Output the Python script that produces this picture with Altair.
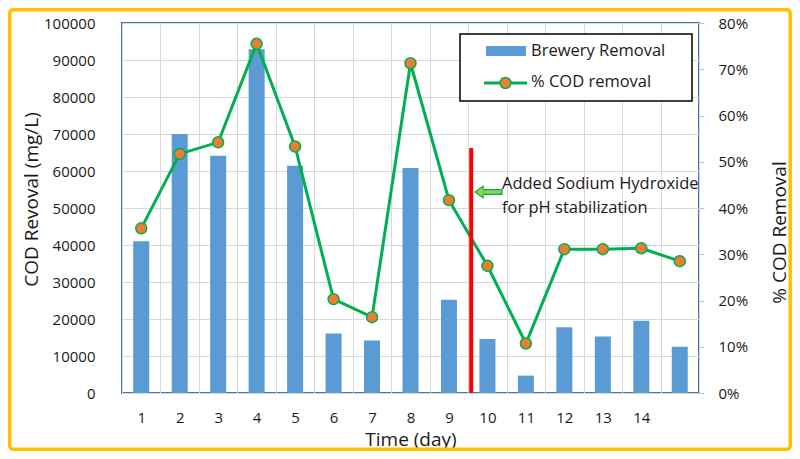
import altair as alt
import pandas as pd

days = list(range(1, 16))
cod_removal = [41000, 70000, 64100, 92900, 61400, 16100, 14200, 60800,
               25200, 14600, 4700, 17800, 15300, 19500, 12500]
pct_removal = [0.356, 0.517, 0.542, 0.755, 0.533, 0.203, 0.164, 0.713,
               0.417, 0.275, 0.107, 0.311, 0.311, 0.313, 0.285]
event_day = [10]
note_lines = ["Added Sodium Hydroxide", "for pH stabilization"]
legend_labels = ["Brewery Removal", "% COD removal"]

FONT = "Open Sans"
BLUE = "#5B9BD5"
GREEN = "#00B050"
ORANGE = "#ED7D31"
TXT = "#1a1a1a"

df = pd.DataFrame({"day": days, "cod": cod_removal, "pct": pct_removal})
one = pd.DataFrame({"k": [0]})

x_enc = alt.X(
    "day:O",
    title="Time (day)",
    scale=alt.Scale(paddingInner=0, paddingOuter=0),
    axis=alt.Axis(
        orient="bottom", tickBand="extent", grid=True, gridColor="#D9D9D9",
        ticks=False, tickSize=0, domain=False, labelAngle=0,
        labelExpr="datum.value == 15 ? '' : datum.label",
        labelFontSize=15, labelPadding=17, labelColor=TXT,
        titleFontSize=19, titleFontWeight="normal", titleColor=TXT,
        titleY=46, titleBaseline="middle",
    ),
)

bars = alt.Chart(df).mark_bar(color=BLUE, size=16).encode(
    x=x_enc,
    y=alt.Y(
        "cod:Q",
        title="COD Revoval (mg/L)",
        scale=alt.Scale(domain=[0, 100000], nice=False),
        axis=alt.Axis(
            orient="left", values=list(range(0, 100001, 10000)), format="d",
            grid=True, gridColor="#D9D9D9", ticks=False, tickSize=0, domain=False,
            labelFontSize=15, labelPadding=27, labelColor=TXT,
            titleFontSize=19, titleFontWeight="normal", titleColor=TXT,
            titleX=-91, titleY=176, titleBaseline="middle", titleAngle=270,
        ),
    ),
)

line = alt.Chart(df).mark_line(
    color=GREEN, strokeWidth=3,
    point=alt.OverlayMarkDef(filled=True, fill=ORANGE, stroke=GREEN,
                             strokeWidth=1.5, size=120, opacity=1),
).encode(
    x=alt.X("day:O"),
    y=alt.Y(
        "pct:Q",
        title="% COD Removal",
        scale=alt.Scale(domain=[0, 0.8], nice=False),
        axis=alt.Axis(
            orient="right", values=[i / 10 for i in range(0, 9)], format=".0%",
            grid=False, ticks=True, tickSize=5, tickColor="#BFBFBF", domain=False,
            labelFontSize=15, labelPadding=14, labelColor=TXT,
            titleFontSize=19, titleFontWeight="normal", titleColor=TXT,
            titleX=80, titleY=209, titleBaseline="middle", titleAngle=270,
        ),
    ),
)

red_rule = alt.Chart(pd.DataFrame({"day": event_day})).mark_rule(
    color="#FF0000", strokeWidth=4, xOffset=3
).encode(
    x=alt.X("day:O", bandPosition=0),
    y=alt.value(125), y2=alt.value(370),
)

arrow_path = "M -1 0 L -0.4 -0.44 L -0.4 -0.18 L 1 -0.18 L 1 0.18 L -0.4 0.18 L -0.4 0.44 Z"
arrow = alt.Chart(one).mark_point(
    shape=arrow_path, size=729, filled=True, fill="#92D050",
    stroke=GREEN, strokeWidth=1.2, opacity=1,
).encode(x=alt.value(366.5), y=alt.value(169))

note_df = pd.DataFrame({"t": note_lines, "i": [0, 1]})
note = alt.Chart(note_df).mark_text(
    align="left", baseline="middle", font=FONT, fontSize=16.5, color=TXT
).transform_calculate(yy="161 + datum.i * 24").encode(
    x=alt.value(380), y=alt.Y("yy:Q", scale=None), text="t:N"
)

legend_box = alt.Chart(one).mark_rect(
    fill="white", stroke="black", strokeWidth=1.5
).encode(x=alt.value(338), x2=alt.value(570), y=alt.value(11), y2=alt.value(78))

legend_swatch = alt.Chart(one).mark_rect(color=BLUE).encode(
    x=alt.value(364), x2=alt.value(404), y=alt.value(23), y2=alt.value(33)
)
legend_line = alt.Chart(one).mark_rule(color=GREEN, strokeWidth=3).encode(
    x=alt.value(362), x2=alt.value(405), y=alt.value(60)
)
legend_pt = alt.Chart(one).mark_point(
    filled=True, fill=ORANGE, stroke=GREEN, strokeWidth=1.5, size=120, opacity=1
).encode(x=alt.value(383.5), y=alt.value(60))

leg_df = pd.DataFrame({"t": legend_labels, "i": [0, 1]})
legend_text = alt.Chart(leg_df).mark_text(
    align="left", baseline="middle", font=FONT, fontSize=16.5, color=TXT
).transform_calculate(yy="28 + datum.i * 31").encode(
    x=alt.value(409), y=alt.Y("yy:Q", scale=None), text="t:N"
)

frame = alt.Chart(one).mark_rect(
    fill=None, stroke="#FFC000", strokeWidth=3.5, cornerRadius=3
).encode(x=alt.value(-112.2), x2=alt.value(668.2), y=alt.value(-13.2), y2=alt.value(426.2))

chart = alt.layer(
    bars, line, red_rule, arrow, note,
    legend_box, legend_swatch, legend_line, legend_pt, legend_text, frame,
).resolve_scale(y="independent").properties(
    width=577, height=370,
    autosize="none",
    padding={"left": 114, "top": 15, "right": 93, "bottom": 58},
).configure(font=FONT).configure_view(stroke="#4472C4", strokeWidth=2)

chart.save("out.html", embed_options={"renderer": "svg", "actions": False})
